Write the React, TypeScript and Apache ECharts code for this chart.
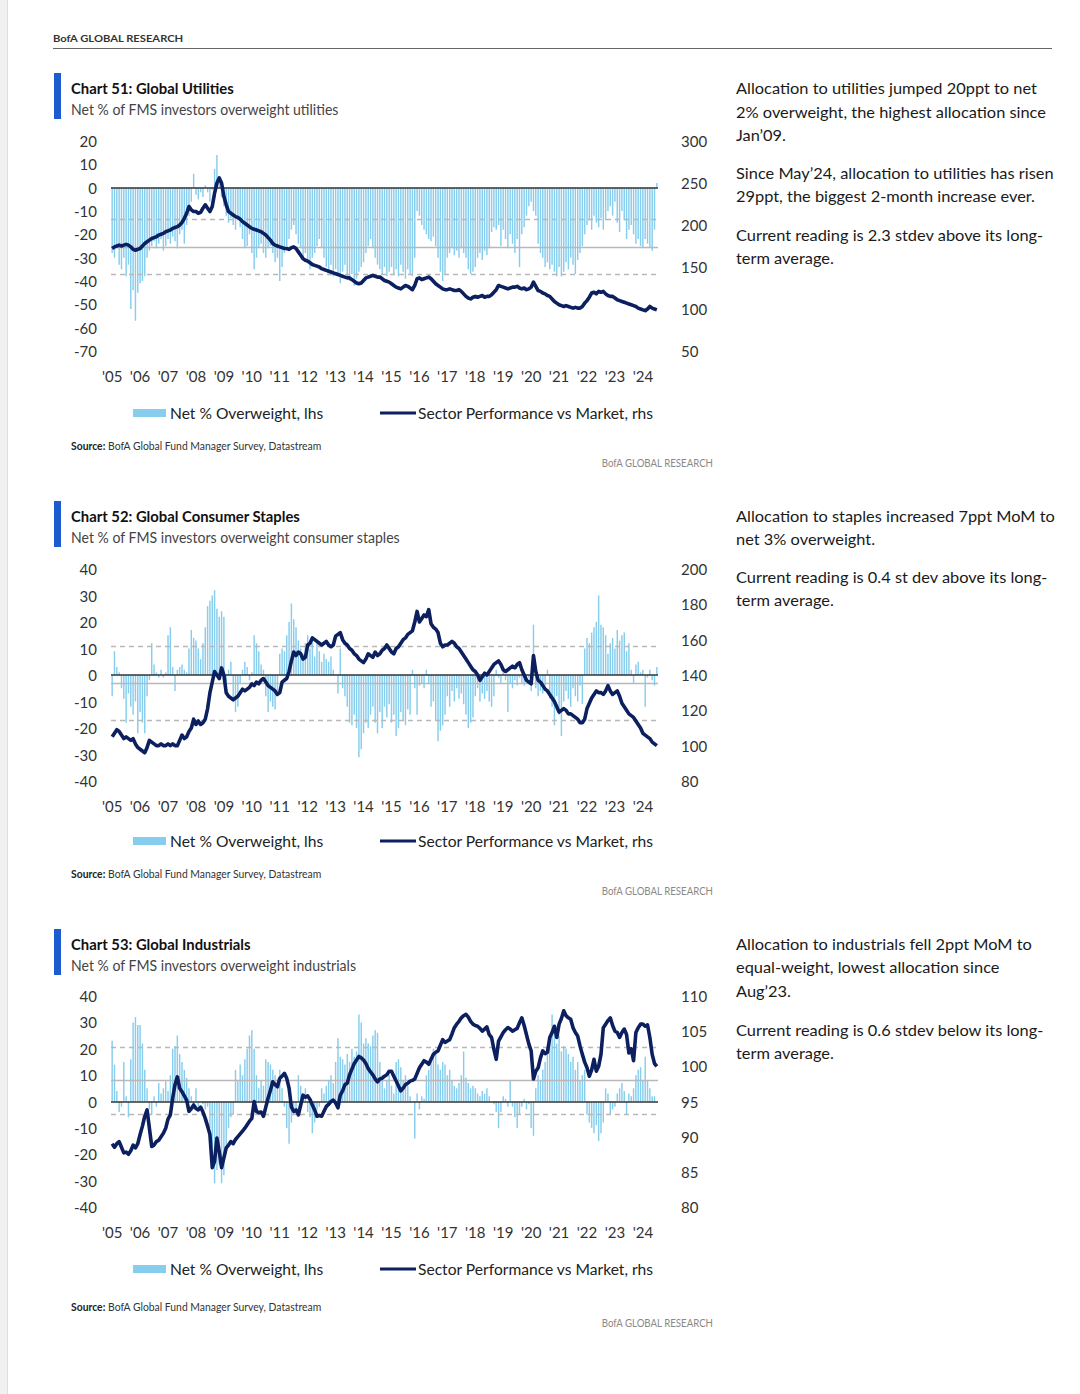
import React, { useEffect, useRef } from "react";
import * as echarts from "echarts";

// ---------------- DATA ----------------
const BAR_NAME = "Net % Overweight, lhs";
const LINE_NAME = "Sector Performance vs Market, rhs";

const months: string[] = [];
for (let i = 0; i < 235; i++) {
  const y = 2005 + Math.floor(i / 12);
  const m = (i % 12) + 1;
  months.push(`${y}-${m < 10 ? "0" + m : m}`);
}

const utilBars = [
  -28, -30, -26, -33, -35, -30, -38, -33, -52, -44, -57, -45,
  -41, -40, -38, -30, -27, -25, -23, -26, -24, -22, -27, -25,
  -22, -24, -21, -23, -26, -20, -18, -24, -16, -12, -6, 6,
  -3, -5, -2, -4, 1, -2, -6, -1, 8, 14, 3, -4,
  -8, -12, -15, -13, -16, -18, -14, -17, -22, -26, -25, -20,
  -28, -35, -30, -26, -24, -28, -30, -26, -25, -28, -32, -30,
  -40, -34, -28, -25, -22, -18, -16, -20, -24, -26, -30, -28,
  -32, -35, -30, -28, -25, -22, -26, -30, -34, -36, -33, -38,
  -35, -38, -41, -36, -33, -38, -40, -37, -42, -39, -36, -34,
  -32, -28, -25, -22, -26, -30, -33, -35, -37, -34, -38, -36,
  -34, -37, -35, -38, -33, -36, -39, -35, -37, -38, -30, -10,
  -12, -16, -18, -20, -22, -23, -21, -25, -30, -36, -40, -37,
  -30, -28, -26, -29, -27, -30, -26, -28, -30, -35, -37, -36,
  -34, -30, -28, -31, -27, -29, -26, -19, -17, -18, -16, -25,
  -18, -22, -26, -20, -24, -28, -22, -34, -20, -17, -12, -8,
  -6, -10, -12, -24, -28, -30, -34, -32, -35, -33, -36, -38,
  -34, -38, -36, -32, -35, -30, -33, -37, -31, -28, -25, -20,
  -16, -14, -18, -12, -15, -17, -13, -18, -14, -10, -8, -12,
  -6, -15, -19, -10, -14, -22, -18, -16, -20, -24, -22, -25,
  -26, -22, -24, -26, -27, -18, 2,
];

const utilPerf = [
  172, 174, 175, 176, 175, 176, 177, 176, 174, 171, 170, 171,
  172, 175, 178, 180, 182, 184, 185, 186, 188, 189, 190, 192,
  193, 194, 196, 197, 198, 200, 203, 208, 214, 222, 218, 216,
  216, 214, 215, 220, 224, 220, 216, 222, 238, 250, 256, 250,
  234, 224, 216, 214, 212, 210, 209, 207, 204, 202, 200, 198,
  196, 195, 194, 193, 192, 190, 188, 185, 182, 178, 176, 175,
  174, 173, 172, 172, 171, 173, 174, 172, 168, 164, 160, 158,
  157, 155, 153, 152, 151, 150, 148, 147, 146, 145, 144, 143,
  142, 141, 140, 139, 138, 137, 137, 135, 133, 131, 130, 131,
  134, 137, 138, 139, 140, 139, 138, 138, 136, 134, 133, 132,
  130, 128, 126, 125, 124, 126, 128, 127, 125, 123, 128, 136,
  137, 135, 136, 137, 138, 136, 133, 130, 128, 126, 124, 123,
  123, 124, 123, 122, 122, 123, 121, 118, 115, 113, 112, 114,
  115, 114, 115, 116, 114, 115, 115, 117, 120, 123, 128, 127,
  126, 125, 124, 125, 126, 126, 127, 125, 124, 125, 123, 124,
  126, 132, 127, 122, 121, 119, 118, 116, 115, 112, 109, 107,
  105, 104, 103, 104, 103, 102, 101, 102, 101, 101, 103, 107,
  110, 114, 119, 120, 118, 121, 120, 121, 118, 116, 115, 115,
  113, 111, 110, 109, 108, 107, 106, 105, 104, 103, 101, 100,
  99, 98, 100, 103, 101, 100, 99,
];

const staplesBars = [
  -8, 9, 3, 1, -5, -9, -18, -7, -12, -15, -10, -22,
  -14, -18, -22, -8, -2, 12, 4, 1, -1, 2, -1, 1,
  15, 18, 3, -6, 2, 3, 4, 2, 1, 10, 17, 14,
  13, 10, 6, 12, 18, 26, 28, 30, 32, 25, 22, 24,
  22, -4, 2, 5, -10, -14, -12, -3, 2, 5, 3, -2,
  1, 15, 12, 9, 4, 2, -8, -14, -10, -12, -13, -6,
  8, 10, 9, 15, 20, 27, 21, 18, 13, 10, 8, 12,
  15, 10, 13, 7, 12, 9, 5, 8, 6, 5, 7, 2,
  0, -7, 10, -5, -8, -12, -18, -19, -15, -20, -31, -28,
  -22, -18, -20, -15, -12, -18, -22, -14, -20, -12, -16, -11,
  -18, -15, -23, -20, -14, -17, -19, -13, -15, 2, -5, -15,
  -4, -3, -5, 2, -3, -12, -10, -17, -25, -21, -19, -15,
  -8, -12, -6, -10, -5, -9, -7, -11, -15, -20, -18, -16,
  -8, -5, -10, -7, -9, -6, -10, -12, -8, 2, -1, -3,
  1, -2, -14, -3, -5, -2, -4, -1, -3, -4, -2, -1,
  -6, 19, -5, -8, -6, -7, -4, 2, -9, -12, -19, -8,
  -15, -23, -10, -6, -9, -12, -5, -8, -10, -4, -11, 10,
  14, 12, 16, 18, 20, 30, 19, 18, 15, 8, 12, 14,
  10, 17, 13, 15, 16, 9, 12, 2, -3, 4, 5, 1,
  2, -12, -1, 2, -2, -4, 3,
];

const staplesPerf = [
  105, 107, 109, 108, 106, 104, 105, 104, 103, 104, 101, 99,
  98, 97, 96, 99, 103, 102, 101, 100, 100, 101, 100, 100,
  101, 100, 101, 100, 100, 103, 106, 104, 105, 108, 110, 115,
  112, 114, 112, 113, 115, 121, 130, 136, 142, 140, 138, 144,
  140, 130, 128, 127, 126, 127, 128, 130, 132, 131, 132, 133,
  135, 134, 136, 135, 137, 138, 136, 134, 133, 132, 131, 129,
  130, 136, 137, 138, 142, 148, 153, 151, 153, 152, 149, 150,
  157, 158, 161, 160, 159, 158, 157, 158, 159, 157, 156, 157,
  162, 163, 164, 160, 158, 157, 155, 154, 152, 151, 149, 148,
  147, 149, 152, 151, 150, 153, 151, 152, 154, 155, 157, 155,
  153, 152, 155, 156, 158, 160, 161, 163, 164, 165, 170, 176,
  170, 172, 174, 173, 177, 169, 167, 166, 164, 158, 156, 157,
  157, 158, 159, 158, 156, 155, 153, 151, 149, 147, 145, 143,
  142, 140, 137, 139, 141, 140, 142, 144, 146, 147, 148, 146,
  143, 142, 143, 144, 145, 144, 146, 147, 143, 140, 137, 136,
  135, 151, 142, 137, 136, 134, 132, 131, 129, 127, 125, 122,
  119, 120, 121, 120, 118, 118, 117, 116, 115, 113, 113, 115,
  121, 124, 127, 129, 131, 130, 130, 129, 131, 134, 131, 129,
  130, 131, 128, 124, 122, 120, 118, 117, 116, 114, 112, 110,
  107, 106, 105, 104, 102, 101, 100,
];

const indusBars = [
  23, 14, 4, -4, -2, 15, 2, -6, 16, 30, 32, 29,
  29, 22, 12, 5, -3, -5, 2, -2, 7, 3, 5, 8,
  4, 10, 20, 21, 25, 18, 15, 12, 9, 5, 2, -3,
  5, -2, 0, -1, -3, -2, -10, -22, -31, -26, -24, -31,
  -28, -20, -10, -6, -5, 12, 8, 14, 10, 16, 20, 25,
  27, 20, 10, 5, 8, 6, 16, 15, 14, 12, 10, 8,
  12, 5, -2, -10, -16, -8, -5, -3, 10, 6, 2, 5,
  -4, -6, -12, -8, -3, -2, 5, 3, 6, 8, 10, 7,
  15, 24, 17, 16, 14, 18, 15, 20, 17, 19, 33, 30,
  22, 24, 22, 21, 25, 27, 26, 15, 10, 5, 8, 10,
  6, 3, 15, 16, 13, 8, 10, 6, 2, 0, -14, 3,
  -3, 2, 1, 10, 12, 15, 20, 18, 14, 12, 15, 14,
  10, 12, 8, 6, 5, 7, 10, 19, 9, 7, 5, 6,
  5, 3, 2, 4, 3, 5, 2, 0, -1, -4, -10, -4,
  2, 1, -2, 8, -2, -6, -10, -5, -2, 1, -3, -1,
  -10, -13, 5, 10, 8, 12, 15, 20, 25, 33, 28, 22,
  25, 19, 21, 20, 18, 15, 17, 12, 15, 8, 10, 12,
  -5, -8, -10, -12, -9, -15, -12, -8, 5, 3, -5, -3,
  -2, 3, 5, 7, 4, -5, 3, 2, 5, 10, 12, 13,
  8, 17, 8, 5, 2, 2, 0,
];

const indusPerf = [
  89, 88.5, 89, 89.3, 88.5, 87.7, 87.8, 87.5, 88, 88.8, 88.4, 89,
  90.3, 91.5, 92.9, 93.8, 91.2, 88.6, 88.8, 89.3, 89.5, 90, 90.5, 91.2,
  92.5, 93.1, 95.5, 97.4, 98.5, 96.9, 96.4, 95.8, 95.2, 93.6, 94, 94.5,
  94, 93.8, 94.2, 93.5, 92.6, 91.5, 90.3, 85.6, 86.5, 89.8, 87.9, 85.6,
  87, 88.4, 88.8, 89.3, 89, 89.6, 90, 90.4, 90.8, 91.2, 91.7, 92.2,
  92.6, 95, 93.6, 93.4, 93.5, 92.9, 94.2, 95.5, 96.6, 97.8, 97.4, 97.1,
  98.3, 98.6, 99, 98.3, 96.9, 94.2, 93.6, 93.8, 93.1, 94.5, 95.9, 95.6,
  95.8, 95.3, 94.5, 93.8, 92.9, 93, 92.9, 93.6, 94.3, 94.6, 95, 95.2,
  94.8, 94.1, 95.9, 96.5, 97.4, 97.6, 98.8, 99.6, 100.4, 100.9, 101.4, 101.2,
  100.9, 100.4, 99.7, 99.2, 98.8, 98.2, 97.8, 98.2, 98.3, 98.6, 98.8, 99.3,
  99.3, 98.6, 97.9, 97.2, 96.5, 96.9, 97.4, 97.6, 97.9, 98, 98.2, 99,
  99.8, 100.3, 100.8, 100.6, 100.3, 101, 101.7, 102, 102.2, 103, 103.8, 103.4,
  103.6, 103.8, 104.6, 105.5, 106, 106.4, 106.9, 107.2, 107.4, 107, 106.4, 106,
  105.8, 105.7, 105.4, 105, 105.3, 105.6, 104.5, 104.1, 102.4, 101, 103.6, 104.2,
  104.8, 105.2, 105.5, 105.3, 105, 105.2, 105.4, 106.2, 106.9, 105.8, 104.5, 103.2,
  102.2, 98.2, 99.3, 99.8, 101.2, 102.2, 101.8, 102, 104.1, 104.8, 105.7, 104.1,
  106, 106.8, 107.9, 107.2, 106.9, 106.7, 105.5, 104.8, 104.3, 102.9, 101.7, 100.6,
  99.8, 98.6, 99.5, 101, 99.3, 100, 101.7, 105.5, 106, 106.5, 106.9, 105.8,
  105, 104.8, 104.1, 104.8, 105.3, 104.5, 101.9, 102.5, 100.8, 104.8, 105.5, 106,
  106, 105.7, 105.9, 104.1, 101.7, 100.4, 100,
];

const avgLine = [-25.5, -3.0, 8.1];
const upperBand = [-13.7, 10.7, 20.7];
const lowerBand = [-37.3, -17.0, -5.0];

const leftMin = [-70, -40, -40];
const leftMax = [20, 40, 40];
const leftStep = [10, 10, 10];
const rightMin = [50, 80, 80];
const rightMax = [300, 200, 110];
const rightStep = [50, 20, 5];

const titles = [
  "Chart 51: Global Utilities",
  "Chart 52: Global Consumer Staples",
  "Chart 53: Global Industrials",
];
const subtitles = [
  "Net % of FMS investors overweight utilities",
  "Net % of FMS investors overweight consumer staples",
  "Net % of FMS investors overweight industrials",
];
const commentary = [
  [
    "Allocation to utilities jumped 20ppt to net",
    "2% overweight, the highest allocation since",
    "Jan\u201909.",
    "Since May\u201924, allocation to utilities has risen",
    "29ppt, the biggest 2-month increase ever.",
    "Current reading is 2.3 stdev above its long-",
    "term average.",
  ],
  [
    "Allocation to staples increased 7ppt MoM to",
    "net 3% overweight.",
    "Current reading is 0.4 st dev above its long-",
    "term average.",
  ],
  [
    "Allocation to industrials fell 2ppt MoM to",
    "equal-weight, lowest allocation since",
    "Aug\u201923.",
    "Current reading is 0.6 stdev below its long-",
    "term average.",
  ],
];
const SOURCE_LABEL = "Source:";
const SOURCE_TEXT = " BofA Global Fund Manager Survey, Datastream";
const BRAND = "BofA GLOBAL RESEARCH";

const barsData = [utilBars, staplesBars, indusBars];
const perfData = [utilPerf, staplesPerf, indusPerf];

// ---------------- LAYOUT ----------------
const gridTop = [141, 569, 996];
const gridHeight = [210, 212, 211];
const blockOffset = [0, 428, 856];
const sourceY = [445, 873, 1306];
const brandY = [463, 891, 1323];
const legendY = [413, 841, 1269];
const commentaryY = [
  [88, 112, 135, 173, 196, 235, 258],
  [516, 539, 577, 600],
  [944, 967, 991, 1030, 1053],
];

const FONT = "Lato";
const BAR_COLOR = "#86cdee";
const LINE_COLOR = "#0c1f5e";

export default function App() {
  const ref = useRef<HTMLDivElement>(null);

  useEffect(() => {
    document.body.style.margin = "0";
    if (!ref.current) return;
    const chart = echarts.init(ref.current, undefined, { renderer: "svg" });

    const ctx = document.createElement("canvas").getContext("2d")!;
    const w = (t: string, font: string) => {
      ctx.font = font;
      return ctx.measureText(t).width;
    };
    const titleScale = 163 / w(titles[0], `bold 16px ${FONT}`);
    const subScale = 268 / w(subtitles[0], `15px ${FONT}`);
    const srcScale =
      251 / (w(SOURCE_LABEL, `bold 11px ${FONT}`) + w(SOURCE_TEXT, `11px ${FONT}`));
    const headScale = 131 / w(BRAND, `bold 10px ${FONT}`);
    const brandScale = 112 / w(BRAND, `11px ${FONT}`);
    const comScale = 301 / w(commentary[0][0], `16px ${FONT}`);

    const graphics: any[] = [
      { type: "rect", shape: { x: 0, y: 0, width: 7, height: 1394 }, style: { fill: "#f1f1f1" } },
      { type: "line", shape: { x1: 7.5, y1: 0, x2: 7.5, y2: 1394 }, style: { stroke: "#dedede", lineWidth: 1 } },
      {
        type: "text", x: 53, y: 38, scaleX: headScale,
        style: { text: BRAND, fontSize: 10, fontWeight: "bold", fontFamily: FONT, fill: "#333", align: "left", verticalAlign: "middle" },
      },
      { type: "line", shape: { x1: 53, y1: 48.5, x2: 1052, y2: 48.5 }, style: { stroke: "#666", lineWidth: 1 } },
    ];

    for (let k = 0; k < 3; k++) {
      const dy = blockOffset[k];
      graphics.push(
        { type: "rect", shape: { x: 54, y: 73 + dy, width: 7, height: 46 }, style: { fill: "#1d5bd0" } },
        {
          type: "text", x: 71, y: 87.5 + dy, scaleX: titleScale,
          style: { text: titles[k], fontSize: 16, fontWeight: "bold", fontFamily: FONT, fill: "#111", align: "left", verticalAlign: "middle" },
        },
        {
          type: "text", x: 71, y: 109 + dy, scaleX: subScale,
          style: { text: subtitles[k], fontSize: 15, fontFamily: FONT, fill: "#444", align: "left", verticalAlign: "middle" },
        },
        {
          type: "text", x: 71, y: sourceY[k], scaleX: srcScale,
          style: {
            text: `{b|${SOURCE_LABEL}}${SOURCE_TEXT}`,
            rich: { b: { fontWeight: "bold", fontSize: 11, fontFamily: FONT, fill: "#222" } },
            fontSize: 11, fontFamily: FONT, fill: "#333", align: "left", verticalAlign: "middle",
          },
        },
        {
          type: "text", x: 713, y: brandY[k], scaleX: brandScale,
          style: { text: BRAND, fontSize: 11, fontFamily: FONT, fill: "#8a8a8a", align: "right", verticalAlign: "middle" },
        }
      );
      commentary[k].forEach((line, i) => {
        graphics.push({
          type: "text", x: 736, y: commentaryY[k][i], scaleX: comScale,
          style: { text: line, fontSize: 16, fontFamily: FONT, fill: "#1a1a1a", align: "left", verticalAlign: "middle" },
        });
      });
    }

    const axisText = { color: "#333", fontSize: 15, fontFamily: FONT };
    const grid: any[] = [];
    const xAxis: any[] = [];
    const yAxis: any[] = [];
    const series: any[] = [];
    const legend: any[] = [];

    for (let k = 0; k < 3; k++) {
      grid.push({ left: 111, width: 547, top: gridTop[k], height: gridHeight[k], containLabel: false });
      xAxis.push({
        type: "category", gridIndex: k, data: months, boundaryGap: true,
        axisLine: { show: false }, axisTick: { show: false }, splitLine: { show: false },
        axisLabel: {
          ...axisText, margin: 17,
          interval: (i: number) => i % 12 === 0,
          formatter: (v: string) => "'" + v.slice(2, 4),
        },
      });
      yAxis.push(
        {
          type: "value", gridIndex: k, position: "left", min: leftMin[k], max: leftMax[k], interval: leftStep[k],
          axisLine: { show: false }, axisTick: { show: false }, splitLine: { show: false },
          axisLabel: { ...axisText, margin: 14 },
        },
        {
          type: "value", gridIndex: k, position: "right", min: rightMin[k], max: rightMax[k], interval: rightStep[k],
          axisLine: { show: false }, axisTick: { show: false }, splitLine: { show: false },
          axisLabel: { ...axisText, margin: 23 },
        }
      );
      series.push(
        {
          name: BAR_NAME, type: "bar", xAxisIndex: k, yAxisIndex: 2 * k, data: barsData[k],
          barWidth: "62%", itemStyle: { color: BAR_COLOR }, z: 2, silent: true,
          markLine: {
            silent: true, symbol: ["none", "none"], label: { show: false },
            data: [
              { yAxis: avgLine[k], lineStyle: { color: "#b8b8b8", width: 1.4, type: "solid" } },
              { yAxis: upperBand[k], lineStyle: { color: "#b8b8b8", width: 1.4, type: [5, 4] } },
              { yAxis: lowerBand[k], lineStyle: { color: "#b8b8b8", width: 1.4, type: [5, 4] } },
              { yAxis: 0, lineStyle: { color: "#333", width: 1.6, type: "solid" } },
            ],
          },
        },
        {
          name: LINE_NAME, type: "line", xAxisIndex: k, yAxisIndex: 2 * k + 1, data: perfData[k],
          symbol: "none", lineStyle: { color: LINE_COLOR, width: 3.6, join: "round" }, itemStyle: { color: LINE_COLOR },
          z: 5, silent: true,
        }
      );
      legend.push(
        {
          left: 133, top: legendY[k] - 8, padding: 0, selectedMode: false, itemWidth: 33, itemHeight: 8, itemGap: 0,
          data: [{ name: BAR_NAME, icon: "rect" }],
          textStyle: { color: "#222", fontSize: 15.6, fontFamily: FONT, lineHeight: 16, padding: [0, 0, 0, -1] },
        },
        {
          left: 380, top: legendY[k] - 8, padding: 0, selectedMode: false, itemWidth: 36, itemHeight: 8, itemGap: 0,
          data: [{ name: LINE_NAME, icon: "path://M0 0H36V3H0Z" }],
          textStyle: { color: "#222", fontSize: 15.6, fontFamily: FONT, lineHeight: 16, padding: [0, 0, 0, -3] },
        }
      );
    }

    chart.setOption({
      animation: false,
      backgroundColor: "#ffffff",
      grid, xAxis, yAxis, series, legend,
      graphic: { elements: graphics },
    });

    return () => chart.dispose();
  }, []);

  return <div ref={ref} style={{ width: 1080, height: 1394 }} />;
}
